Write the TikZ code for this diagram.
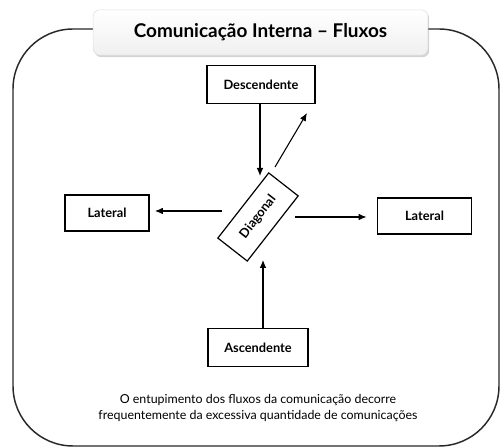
\documentclass[tikz,border=0pt]{standalone}
\usepackage{fontspec}
\setmainfont{Lato}
\usepackage{tikz}
\usetikzlibrary{positioning,arrows.meta,shadows,calc}
\definecolor{framegray}{RGB}{40,40,40}

\begin{document}
\begin{tikzpicture}[
    x=0.75pt, y=-0.75pt,
    every node/.style={font=\small},
    flowBox/.style={rectangle, draw=black, fill=white, line width=0.9pt, inner sep=0pt, font=\fontsize{9.6}{11}\selectfont\bfseries, align=center},
    titleBox/.style={rectangle, rounded corners=5pt, draw=gray!25, top color=white, bottom color=gray!12, drop shadow={shadow xshift=1pt, shadow yshift=-1.5pt, opacity=0.35}, minimum width=251pt, minimum height=34pt, font=\fontsize{14.2}{16}\selectfont\bfseries},
    flowArrow/.style={draw=black, -{Latex[length=6pt,width=5pt]}, line width=0.8pt}
]
    \useasboundingbox (0,0) rectangle (501,448);
    % outer frame
    \draw [framegray, line width=1.1pt, rounded corners=45pt] (13,29) rectangle (499,446);
    \node [titleBox] (title) at (260.5,32.5) {Comunicação Interna – Fluxos};

    \node [flowBox, minimum width=81pt, minimum height=28pt] (desc) at (261,84.5) {Descendente};
    \node [flowBox, minimum width=63pt, minimum height=27pt] (latL) at (107,213) {Lateral};
    \node [flowBox, minimum width=70pt, minimum height=27pt] (latR) at (424.5,216) {Lateral};
    \node [flowBox, minimum width=75pt, minimum height=28pt] (asc) at (258,347.5) {Ascendente};
    \node [flowBox, rotate=52, minimum width=62pt, minimum height=28pt] (diag) at (258,217) {Diagonal};

    % free ends of the flows
    \coordinate (descEnd) at (260,176);
    \coordinate (diagStart) at (275,167);
    \coordinate (diagEnd) at (307,113);
    \coordinate (leftStart) at (222,211);
    \coordinate (rightStart) at (295,217);
    \coordinate (ascEnd) at (263,260);

    \draw [flowArrow] (desc.south -| descEnd) -- (descEnd);
    \draw [flowArrow] (diagStart) -- (diagEnd);
    \draw [flowArrow, shorten >=4pt] (leftStart) -- (latL.east |- leftStart);
    \draw [flowArrow, shorten >=8pt] (rightStart) -- (latR.west |- rightStart);
    \draw [flowArrow] (asc.north -| ascEnd) -- (ascEnd);

    \node [font=\fontsize{9.3}{12}\selectfont, align=center] (note) at (258,408.5) {O entupimento dos fluxos da comunicação decorre\\frequentemente da excessiva quantidade de comunicações};
\end{tikzpicture}
\end{document}
